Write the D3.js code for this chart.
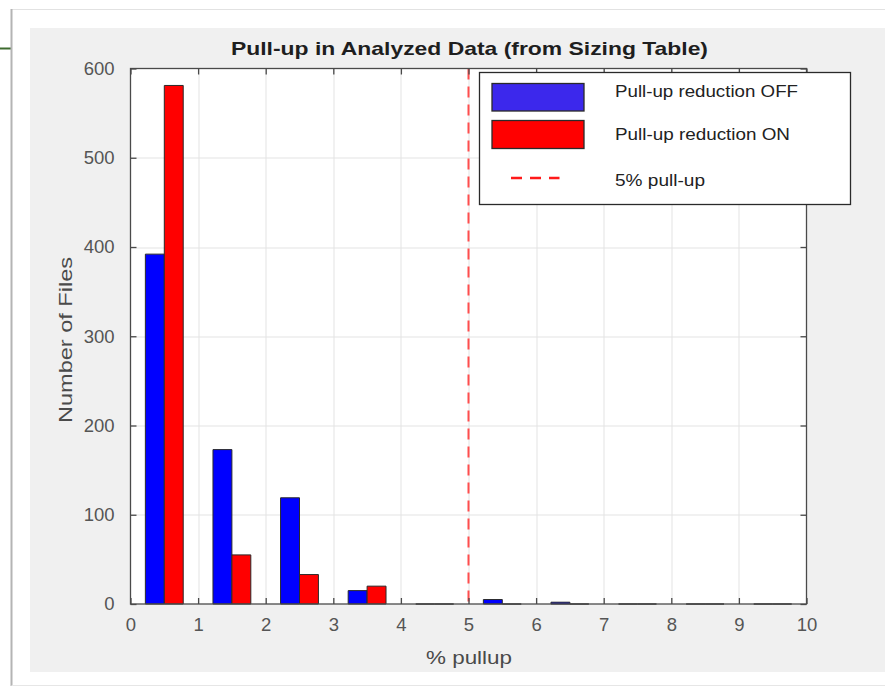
<!DOCTYPE html>
<html>
<head>
<meta charset="utf-8">
<script src="https://cdn.jsdelivr.net/npm/d3@7"></script>
<style>
  body { margin: 0; background: #fff; }
  svg { display: block; font-family: "Liberation Sans", Arial, Helvetica, sans-serif; }
</style>
</head>
<body>
<div id="chart"></div>
<script>
'use strict';

// Data: histogram of % pullup, bins of width 1
var binStarts = [0, 1, 2, 3, 4, 5, 6, 7, 8, 9]
var offCounts = [392, 173, 119, 15, 0, 5, 2, 0, 0, 0]
var onCounts = [581, 55, 33, 20, 0, 0, 0, 0, 0, 0]
var xTicks = [0, 1, 2, 3, 4, 5, 6, 7, 8, 9, 10]
var yTicks = [0, 100, 200, 300, 400, 500, 600]
var limitValue = 5
var legendLabels = ["Pull-up reduction OFF", "Pull-up reduction ON", "5% pull-up"]

var W = 885, H = 686
var margin = {top: 68.5, right: 78.5, bottom: 82, left: 130.5}
var width = W - margin.left - margin.right
var height = H - margin.top - margin.bottom

var x = d3.scaleLinear().domain([0, 10]).range([0, width])
var y = d3.scaleLinear().domain([0, 600]).range([height, 0])

var colorize = function(type){
  if (type=='off') return '#0000ff'
  if (type=='on') return '#ff0000'
  return '#ff699b'
}

var svg = d3.select("#chart").append("svg")
  .attr("width", W)
  .attr("height", H)

// Window frame around the figure
svg.append("line").attr("x1", 0).attr("x2", 11).attr("y1", 48.5).attr("y2", 48.5)
  .style("stroke", "#3d6b2f").style("stroke-width", 2)
svg.append("line").attr("x1", 11.5).attr("x2", W).attr("y1", 9.5).attr("y2", 9.5)
  .style("stroke", "#e2e2e2")
svg.append("line").attr("x1", 11.5).attr("x2", 11.5).attr("y1", 9).attr("y2", H)
  .style("stroke", "#b4b4b4").style("stroke-width", 2)
svg.append("line").attr("x1", 11.5).attr("x2", W).attr("y1", 685.5).attr("y2", 685.5)
  .style("stroke", "#e6e6e6")

// Figure background
svg.append("rect").attr("x", 30).attr("y", 28).attr("width", W - 30).attr("height", 644)
  .style("fill", "#f0f0f0")

var g = svg.append("g")
  .attr("transform", "translate(" + margin.left + "," + margin.top + ")")

g.append("rect").attr("width", width).attr("height", height).style("fill", "#fff")

// Grid
g.selectAll(".gridx").data(xTicks.slice(1, -1)).enter().append("line")
  .attr("class", "gridx")
  .attr("x1", function(d){ return Math.round(x(d)) + 0.5 })
  .attr("x2", function(d){ return Math.round(x(d)) + 0.5 })
  .attr("y1", 0).attr("y2", height)
  .style("stroke", "#e3e3e3")
g.selectAll(".gridy").data(yTicks.slice(1, -1)).enter().append("line")
  .attr("class", "gridy")
  .attr("x1", 0).attr("x2", width)
  .attr("y1", function(d){ return Math.round(y(d)) + 0.5 })
  .attr("y2", function(d){ return Math.round(y(d)) + 0.5 })
  .style("stroke", "#e3e3e3")

// Bars (paths so zero counts still show as a flat line)
var barW = 0.28
var series = [
  {type: 'off', values: offCounts, shift: -barW},
  {type: 'on', values: onCounts, shift: 0}
]
var barPath = function(x0, x1, v){
  return "M" + x(x0) + "," + y(0) + "V" + y(v) + "H" + x(x1) + "V" + y(0) + "Z"
}
series.forEach(function(s){
  g.selectAll(".bar-" + s.type).data(binStarts).enter().append("path")
    .attr("class", "bar-" + s.type)
    .attr("d", function(d, i){
      var c = d + 0.5 + s.shift
      return barPath(c, c + barW, s.values[i])
    })
    .style("fill", colorize(s.type))
    .style("stroke", "#2a2a2a")
    .style("stroke-width", 1)
})

// 5% pull-up marker
g.append("line")
  .attr("x1", x(limitValue)).attr("x2", x(limitValue))
  .attr("y1", 0).attr("y2", height)
  .style("stroke", "#ff4d4d")
  .style("stroke-width", 2)
  .style("stroke-dasharray", "11,7")

// Axes box and inner ticks
var axisColor = "#4a4a4a"
g.append("rect").attr("width", width).attr("height", height)
  .style("fill", "none").style("stroke", axisColor).style("stroke-width", 1.3)

var xAxisBottom = d3.axisBottom(x).tickValues(xTicks).tickSizeInner(-6).tickSizeOuter(0).tickPadding(14)
var xAxisTop = d3.axisTop(x).tickValues(xTicks).tickSizeInner(-6).tickSizeOuter(0).tickFormat("")
var yAxisLeft = d3.axisLeft(y).tickValues(yTicks).tickSizeInner(-6).tickSizeOuter(0).tickPadding(16)
var yAxisRight = d3.axisRight(y).tickValues(yTicks).tickSizeInner(-6).tickSizeOuter(0).tickFormat("")

var styleAxis = function(sel){
  sel.select(".domain").remove()
  sel.selectAll(".tick line").style("stroke", axisColor).style("stroke-width", 1.3)
  sel.selectAll(".tick text")
    .style("font-size", "18.5px")
    .style("font-family", "'Liberation Sans', Arial, sans-serif")
    .style("fill", "#555")
}

g.append("g").attr("transform", "translate(0," + height + ")").call(xAxisBottom).call(styleAxis)
g.append("g").call(xAxisTop).call(styleAxis)
g.append("g").call(yAxisLeft).call(styleAxis)
g.append("g").attr("transform", "translate(" + width + ",0)").call(yAxisRight).call(styleAxis)

// Title and axis labels
svg.append("text")
  .attr("x", 469.5).attr("y", 55)
  .attr("text-anchor", "middle")
  .attr("textLength", 477).attr("lengthAdjust", "spacingAndGlyphs")
  .style("font-size", "19px").style("font-weight", "bold").style("fill", "#1e1e1e")
  .text("Pull-up in Analyzed Data (from Sizing Table)")

svg.append("text")
  .attr("x", 469).attr("y", 664)
  .attr("text-anchor", "middle")
  .attr("textLength", 86).attr("lengthAdjust", "spacingAndGlyphs")
  .style("font-size", "19px").style("fill", "#4a4a4a")
  .text("% pullup")

svg.append("text")
  .attr("transform", "translate(72,340) rotate(-90)")
  .attr("text-anchor", "middle")
  .attr("textLength", 166).attr("lengthAdjust", "spacingAndGlyphs")
  .style("font-size", "19px").style("fill", "#4a4a4a")
  .text("Number of Files")

// Legend
var legend = svg.append("g").attr("transform", "translate(479.5,72.5)")
legend.append("rect").attr("width", 371).attr("height", 132)
  .style("fill", "#fff").style("stroke", "#2a2a2a").style("stroke-width", 1.3)

legend.append("rect").attr("x", 12.5).attr("y", 11).attr("width", 92).attr("height", 27.5)
  .style("fill", "#3c28ec").style("stroke", "#2a2a2a").style("stroke-width", 1.3)
legend.append("rect").attr("x", 12.5).attr("y", 48).attr("width", 92).attr("height", 28)
  .style("fill", "#ff0000").style("stroke", "#2a2a2a").style("stroke-width", 1.3)
legend.append("line").attr("x1", 31.5).attr("x2", 80).attr("y1", 105.5).attr("y2", 105.5)
  .style("stroke", "#ff1a1a").style("stroke-width", 2.5).style("stroke-dasharray", "11,8")

var legendY = [24, 67, 113]
var legendW = [183, 175, 90]
legend.selectAll(".ltext").data(legendLabels).enter().append("text")
  .attr("class", "ltext")
  .attr("x", 135.5)
  .attr("y", function(d, i){ return legendY[i] })
  .attr("textLength", function(d, i){ return legendW[i] })
  .attr("lengthAdjust", "spacingAndGlyphs")
  .style("font-size", "17px").style("fill", "#222")
  .text(function(d){ return d })
</script>
</body>
</html>
